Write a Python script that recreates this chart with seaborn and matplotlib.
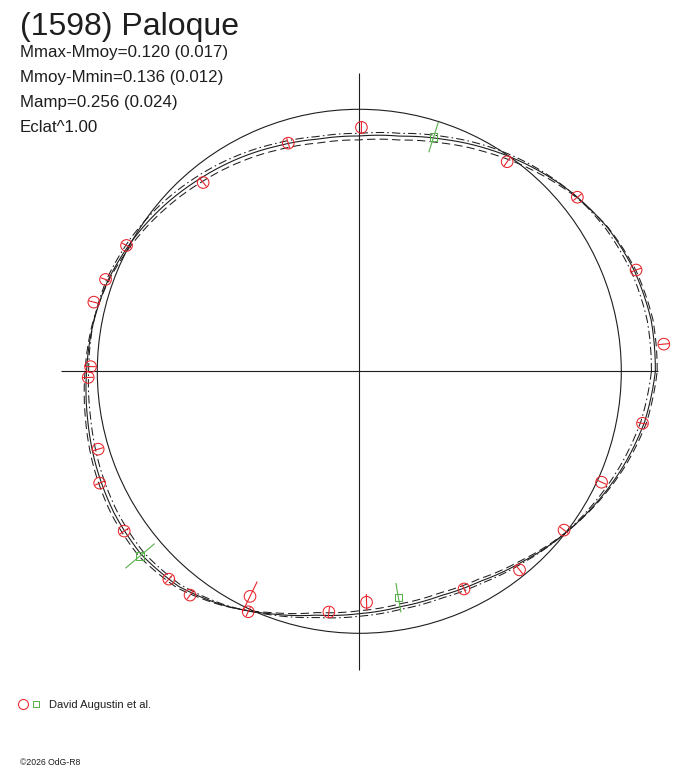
import numpy as np
import pandas as pd
import matplotlib
matplotlib.use("Agg")
import matplotlib.pyplot as plt
from matplotlib.lines import Line2D
from matplotlib.legend_handler import HandlerTuple
import seaborn as sns

# ---------------- data ----------------
title = "(1598) Paloque"
stats_lines = ["Mmax-Mmoy=0.120 (0.017)", "Mmoy-Mmin=0.136 (0.012)",
               "Mamp=0.256 (0.024)", "Eclat^1.00"]
source_label = "David Augustin et al."
copyright_text = "\u00a92026 OdG-R8"

# fitted light curve (relative flux as radius) vs rotation angle (deg)
fit_angle = [0, 10, 20, 30, 40, 50, 60, 70, 80, 90, 100, 110, 120, 130, 140, 150, 160, 170,
             180, 190, 200, 210, 220, 230, 240, 250, 260, 270, 280, 290, 300, 310, 320, 330, 340, 350]
fit_solid = [1.130, 1.131, 1.118, 1.095, 1.060, 1.020, 0.980, 0.942, 0.911, 0.898, 0.900, 0.915,
             0.935, 0.955, 0.978, 1.000, 1.020, 1.032, 1.041, 1.053, 1.068, 1.081, 1.087, 1.072,
             1.032, 0.985, 0.945, 0.925, 0.912, 0.911, 0.925, 0.955, 0.993, 1.031, 1.070, 1.106]
fit_dashed = [1.137, 1.138, 1.124, 1.097, 1.056, 1.010, 0.966, 0.927, 0.896, 0.883, 0.885, 0.900,
              0.920, 0.941, 0.966, 0.992, 1.017, 1.035, 1.047, 1.061, 1.078, 1.092, 1.098, 1.080,
              1.034, 0.980, 0.935, 0.914, 0.901, 0.900, 0.915, 0.948, 0.991, 1.034, 1.076, 1.114]
fit_dashdot = [1.115, 1.116, 1.106, 1.087, 1.060, 1.026, 0.990, 0.953, 0.922, 0.908, 0.910, 0.926,
               0.947, 0.968, 0.990, 1.010, 1.026, 1.032, 1.033, 1.041, 1.055, 1.068, 1.075, 1.063,
               1.029, 0.989, 0.954, 0.935, 0.922, 0.921, 0.934, 0.960, 0.993, 1.025, 1.059, 1.092]
mean_level = 1.0
cross_extent = 1.14

# observations (red circles)
obs_angle = [89.5, 107.3, 129.6, 151.6, 160.1, 165.4, 179.0, 181.3, 196.6, 203.3, 214.2, 227.5,
             232.9, 244.1, 245.2, 262.8, 271.8, 295.7, 308.9, 322.2, 335.4, 349.6, 5.1, 20.1,
             38.6, 54.8]
obs_r = [0.931, 0.912, 0.935, 1.010, 1.030, 1.047, 1.026, 1.035, 1.040, 1.079, 1.085, 1.076,
         1.071, 0.955, 1.011, 0.926, 0.882, 0.922, 0.974, 0.989, 1.017, 1.099, 1.167, 1.125,
         1.065, 0.979]
obs_err = [0.022, 0.02, 0.02, 0.02, 0.02, 0.02, 0.02, 0.02, 0.02, 0.02, 0.02, 0.02,
           0.02, 0.063, 0.02, 0.02, 0.032, 0.02, 0.02, 0.02, 0.02, 0.02, 0.02, 0.02,
           0.02, 0.02]

# second data set (green squares)
obs2_angle = [72.4, 220.1, 279.8]
obs2_r = [0.938, 1.094, 0.877]
obs2_err = [0.061, 0.073, 0.057]

RED = "#e8232b"
GREEN = "#58b04a"
INK = "#1e1e1e"

# ---------------- figure ----------------
sns.set_theme(style="white")
plt.rcParams['font.family'] = ['Liberation Sans', 'DejaVu Sans']

W, H = 688, 768
fig = plt.figure(figsize=(W / 100, H / 100), dpi=100)
fig.patch.set_facecolor("white")

RMAX = 1.2
R_PX = 262.0
cx, cy = 359.3, 371.3
half = RMAX * R_PX
ax = fig.add_axes([(cx - half) / W, (H - cy - half) / H, 2 * half / W, 2 * half / H],
                  projection="polar")
ax.set_ylim(0, RMAX)
ax.set_axis_off()


def closed(angles, radii):
    a = np.radians(np.append(angles, 360.0))
    r = np.append(radii, radii[0])
    return pd.DataFrame({"theta": a, "r": r})


# reference (mean) circle
circ = pd.DataFrame({"theta": np.radians(np.arange(0, 361, 2)),
                     "r": np.full(181, mean_level)})
sns.lineplot(data=circ, x="theta", y="r", ax=ax, color=INK, lw=0.8,
             estimator=None, sort=False)

# cross through the centre
cross_t = np.radians([0, 90, 180, 270])
ax.vlines(cross_t, 0, cross_extent, colors=INK, lw=0.8)

# fitted curves
sns.lineplot(data=closed(fit_angle, fit_dashed), x="theta", y="r", ax=ax, color=INK,
             lw=0.75, linestyle=(0, (8, 4)), estimator=None, sort=False)
sns.lineplot(data=closed(fit_angle, fit_dashdot), x="theta", y="r", ax=ax, color=INK,
             lw=0.75, linestyle=(0, (8, 3, 1.5, 3)), estimator=None, sort=False)
sns.lineplot(data=closed(fit_angle, fit_solid), x="theta", y="r", ax=ax, color=INK,
             lw=0.8, estimator=None, sort=False)

# let the polar transform draw the curves as arcs between the read values
for ln in ax.get_lines():
    ln.get_path()._interpolation_steps = 24

# observations with radial error bars
t1 = np.radians(obs_angle)
r1 = np.array(obs_r)
e1 = np.array(obs_err)
ax.vlines(t1, r1 - e1, r1 + e1, colors=RED, lw=0.8, zorder=4)
sns.scatterplot(x=t1, y=r1, ax=ax, marker="o", s=70, facecolor="none",
                edgecolor=RED, linewidth=0.75, zorder=5)

t2 = np.radians(obs2_angle)
r2 = np.array(obs2_r)
e2 = np.array(obs2_err)
ax.vlines(t2, r2 - e2, r2 + e2, colors=GREEN, lw=0.8, zorder=4)
sns.scatterplot(x=t2, y=r2, ax=ax, marker="s", s=28, facecolor="none",
                edgecolor=GREEN, linewidth=0.75, zorder=5)
ax.set_ylim(0, RMAX)

# ---------------- texts ----------------
fig.text(20 / W, 1 - 35.5 / H, title, fontsize=23, color=INK, va="baseline", ha="left")
for i, s in enumerate(stats_lines):
    fig.text(20 / W, 1 - (56.7 + 25 * i) / H, s, fontsize=12.2, color=INK,
             va="baseline", ha="left")

h_circle = Line2D([], [], marker="o", linestyle="none", markersize=7.2,
                  markerfacecolor="none", markeredgecolor=RED, markeredgewidth=0.75)
h_square = Line2D([], [], marker="s", linestyle="none", markersize=5.0,
                  markerfacecolor="none", markeredgecolor=GREEN, markeredgewidth=0.75)
leg_fs = 8
fs_px = leg_fs * 100 / 72
fig.legend(handles=[(h_circle, h_square)], labels=[source_label],
           handler_map={tuple: HandlerTuple(ndivide=None, pad=0)},
           loc="center left", bbox_to_anchor=(17 / W, 1 - 705 / H),
           frameon=False, fontsize=leg_fs, borderpad=0, borderaxespad=0,
           handlelength=25.4 / fs_px, handletextpad=6.9 / fs_px,
           labelcolor=INK)

fig.text(20 / W, 1 - 765 / H, copyright_text, fontsize=6.2, color=INK,
         va="baseline", ha="left")

fig.savefig("out.png", dpi=100, facecolor="white")
